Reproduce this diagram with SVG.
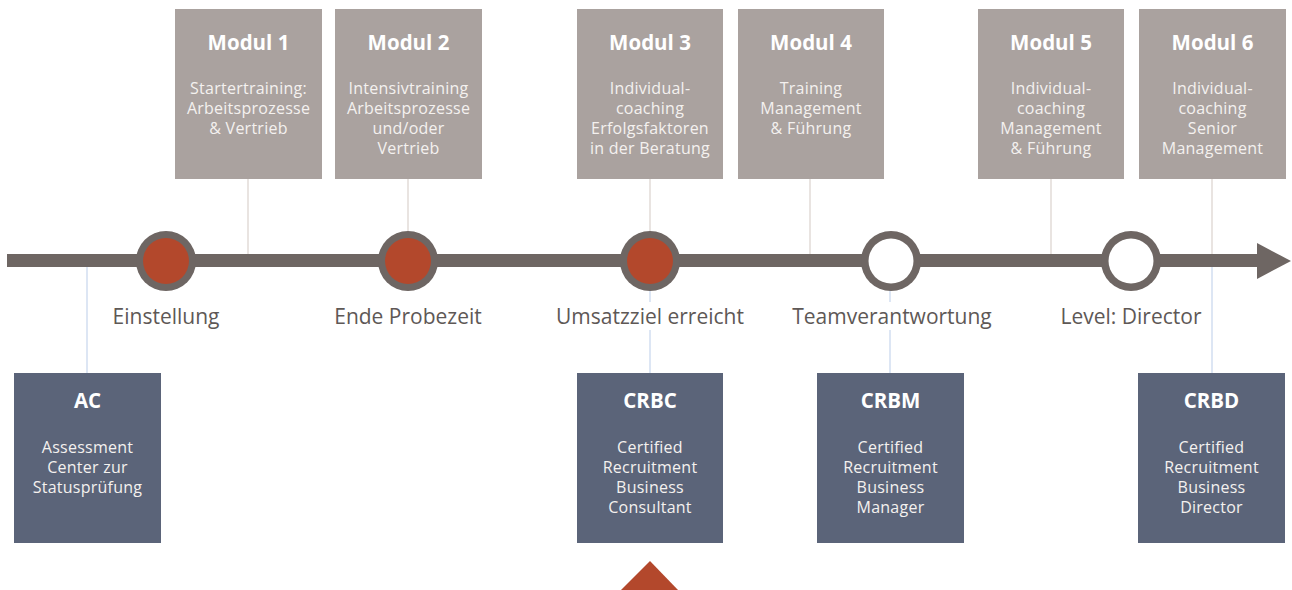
<svg xmlns="http://www.w3.org/2000/svg" width="1292" height="590" viewBox="0 0 1292 590">
<style>
.top{fill:#aaa29f}
.bot{fill:#5b6479}
.t{font-family:"Open Sans","Liberation Sans",sans-serif;font-weight:bold;font-size:20.5px;fill:#ffffff;text-anchor:middle}
.b{font-family:"Open Sans","Liberation Sans",sans-serif;font-size:16px;letter-spacing:0.25px;fill:#f4f1ef;text-anchor:middle}
.lbl{font-family:"Open Sans","Liberation Sans",sans-serif;font-size:21px;fill:#5e5856;text-anchor:middle}
.cu{stroke:#e2dbd7;stroke-width:1.5;fill:none}
.cd{stroke:#d2def0;stroke-width:1.5;fill:none}
.ring{fill:#6e6663}
.red{fill:#b3482c}
.wht{fill:#ffffff}
</style>
<rect width="1292" height="590" fill="#ffffff"/>
<g id="connectors">
<line class="cu" x1="248" y1="179" x2="248" y2="254"/>
<line class="cu" x1="408" y1="179" x2="408" y2="232"/>
<line class="cu" x1="650" y1="179" x2="650" y2="232"/>
<line class="cu" x1="810" y1="179" x2="810" y2="254"/>
<line class="cu" x1="1051" y1="179" x2="1051" y2="254"/>
<line class="cu" x1="1212" y1="179" x2="1212" y2="254"/>
<line class="cd" x1="87" y1="267" x2="87" y2="373"/>
<line class="cd" x1="650" y1="290" x2="650" y2="302"/>
<line class="cd" x1="650" y1="330" x2="650" y2="373"/>
<line class="cd" x1="890" y1="290" x2="890" y2="302"/>
<line class="cd" x1="890" y1="330" x2="890" y2="373"/>
<line class="cd" x1="1212" y1="267" x2="1212" y2="373"/>
</g>
<g id="timeline">
<rect x="7" y="254" width="1252" height="13" fill="#6e6663"/>
<polygon points="1257,243 1291,261 1257,279" fill="#6e6663"/>
</g>
<g id="m-einstellung"><circle class="ring" cx="166" cy="261" r="30"/><circle class="red" cx="166" cy="261" r="23"/><text class="lbl" x="166" y="324">Einstellung</text></g>
<g id="m-probezeit"><circle class="ring" cx="408" cy="261" r="30"/><circle class="red" cx="408" cy="261" r="23"/><text class="lbl" x="408" y="324">Ende Probezeit</text></g>
<g id="m-umsatz"><circle class="ring" cx="650" cy="261" r="30"/><circle class="red" cx="650" cy="261" r="23"/><text class="lbl" x="650" y="324">Umsatzziel erreicht</text></g>
<g id="m-team"><circle class="ring" cx="891" cy="261" r="30"/><circle class="wht" cx="891" cy="261" r="22.5"/><text class="lbl" x="892" y="324">Teamverantwortung</text></g>
<g id="m-director"><circle class="ring" cx="1131" cy="261" r="30"/><circle class="wht" cx="1131" cy="261" r="22.5"/><text class="lbl" x="1131" y="324">Level: Director</text></g>
<g id="modul1"><rect class="top" x="175" y="9" width="147" height="170"/><text class="t" x="248.5" y="50">Modul 1</text><text class="b" x="248.5" y="94">Startertraining:</text><text class="b" x="248.5" y="114">Arbeitsprozesse</text><text class="b" x="248.5" y="134">&amp; Vertrieb</text></g>
<g id="modul2"><rect class="top" x="335" y="9" width="147" height="170"/><text class="t" x="408.5" y="50">Modul 2</text><text class="b" x="408.5" y="94">Intensivtraining</text><text class="b" x="408.5" y="114">Arbeitsprozesse</text><text class="b" x="408.5" y="134">und/oder</text><text class="b" x="408.5" y="154">Vertrieb</text></g>
<g id="modul3"><rect class="top" x="577" y="9" width="146" height="170"/><text class="t" x="650" y="50">Modul 3</text><text class="b" x="650" y="94">Individual-</text><text class="b" x="650" y="114">coaching</text><text class="b" x="650" y="134">Erfolgsfaktoren</text><text class="b" x="650" y="154">in der Beratung</text></g>
<g id="modul4"><rect class="top" x="738" y="9" width="146" height="170"/><text class="t" x="811" y="50">Modul 4</text><text class="b" x="811" y="94">Training</text><text class="b" x="811" y="114">Management</text><text class="b" x="811" y="134">&amp; Führung</text></g>
<g id="modul5"><rect class="top" x="978" y="9" width="146" height="170"/><text class="t" x="1051" y="50">Modul 5</text><text class="b" x="1051" y="94">Individual-</text><text class="b" x="1051" y="114">coaching</text><text class="b" x="1051" y="134">Management</text><text class="b" x="1051" y="154">&amp; Führung</text></g>
<g id="modul6"><rect class="top" x="1139" y="9" width="147" height="170"/><text class="t" x="1212.5" y="50">Modul 6</text><text class="b" x="1212.5" y="94">Individual-</text><text class="b" x="1212.5" y="114">coaching</text><text class="b" x="1212.5" y="134">Senior</text><text class="b" x="1212.5" y="154">Management</text></g>
<g id="ac"><rect class="bot" x="14" y="373" width="147" height="170"/><text class="t" x="87.5" y="408">AC</text><text class="b" x="87.5" y="453">Assessment</text><text class="b" x="87.5" y="473">Center zur</text><text class="b" x="87.5" y="493">Statusprüfung</text></g>
<g id="crbc"><rect class="bot" x="577" y="373" width="146" height="170"/><text class="t" x="650" y="408">CRBC</text><text class="b" x="650" y="453">Certified</text><text class="b" x="650" y="473">Recruitment</text><text class="b" x="650" y="493">Business</text><text class="b" x="650" y="513">Consultant</text></g>
<g id="crbm"><rect class="bot" x="817" y="373" width="147" height="170"/><text class="t" x="890.5" y="408">CRBM</text><text class="b" x="890.5" y="453">Certified</text><text class="b" x="890.5" y="473">Recruitment</text><text class="b" x="890.5" y="493">Business</text><text class="b" x="890.5" y="513">Manager</text></g>
<g id="crbd"><rect class="bot" x="1138" y="373" width="147" height="170"/><text class="t" x="1211.5" y="408">CRBD</text><text class="b" x="1211.5" y="453">Certified</text><text class="b" x="1211.5" y="473">Recruitment</text><text class="b" x="1211.5" y="493">Business</text><text class="b" x="1211.5" y="513">Director</text></g>
<g id="marker"><polygon points="650,561 678,590 621,590" fill="#b3482c"/></g>
</svg>
